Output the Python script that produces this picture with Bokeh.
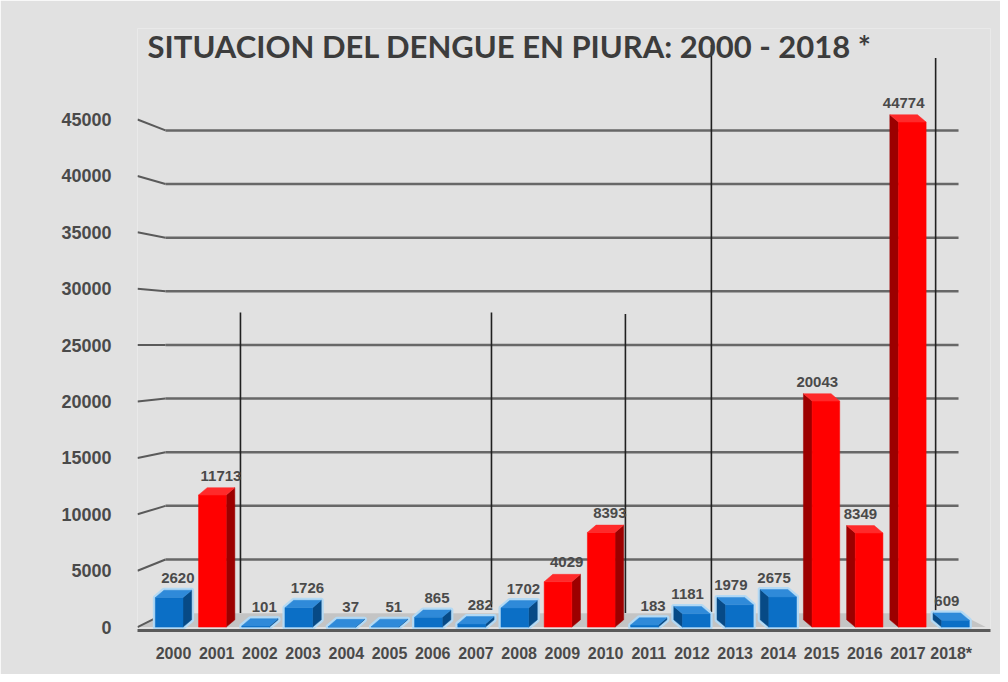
import numpy as np
from bokeh.plotting import figure
from bokeh.models import ColumnDataSource, Range1d, FixedTicker, NumeralTickFormatter, Label
from bokeh.core.properties import value
from bokeh.embed import file_html
from bokeh.resources import INLINE

# ---------------- data ----------------
years = ["2000", "2001", "2002", "2003", "2004", "2005", "2006", "2007", "2008", "2009",
         "2010", "2011", "2012", "2013", "2014", "2015", "2016", "2017", "2018*"]
cases = [2620, 11713, 101, 1726, 37, 51, 865, 282, 1702, 4029,
         8393, 183, 1181, 1979, 2675, 20043, 8349, 44774, 609]
epidemic = [False, True, False, False, False, False, False, False, False, True,
            True, False, False, False, False, True, True, True, False]
y_ticks = [0, 5000, 10000, 15000, 20000, 25000, 30000, 35000, 40000, 45000]
title_text = "SITUACION DEL DENGUE EN PIURA:  2000 - 2018 *"

# period separator lines drawn on the slide (x between categories, y extent in cases)
sep_x = [1.55, 7.36, 10.46, 12.45, 17.64]
sep_top = [27900, 27900, 27750, 51600, 50450]
sep_bottom = [1250, 1750, 1250, 1350, 1500]

# ---------------- style ----------------
BG = "#e1e1e1"
GRID = "#5a5a5a"
TXT = "#4a4a4a"
BLUE, BLUE_SIDE, BLUE_TOP, BLUE_GLOW = "#0b6fc6", "#074a86", "#2f8ad9", "#b3d9f4"
RED, RED_SIDE, RED_TOP = "#ff0000", "#9c0000", "#ff2a2a"
W = 0.84          # box footprint width (category units)
DX = 0.2          # oblique depth, x (category units)
DY = 650          # oblique depth, y (data units)
BACK_SCALE, BACK_OFFSET = 0.951, 1239   # back-wall perspective for gridlines
FRONT_LEFT, BACK_LEFT, BACK_RIGHT, FRONT_RIGHT = -0.833, -0.185, 18.17, 18.8

p = figure(width=1000, height=674, output_backend="svg", toolbar_location=None,
           x_range=Range1d(-0.833, 18.91), y_range=Range1d(-300, 53070),
           min_border_left=137, min_border_right=10, min_border_top=28, min_border_bottom=44)
p.background_fill_color = BG
p.border_fill_color = BG
p.outline_line_color = None
p.xgrid.visible = False
p.ygrid.visible = False

# floor
p.patch([FRONT_LEFT, FRONT_RIGHT, BACK_RIGHT, BACK_LEFT], [0, 0, BACK_OFFSET, BACK_OFFSET],
        fill_color="#c4c4c4", line_color=None)

# perspective gridlines and diagonal ticks
gt = np.array(y_ticks[1:], dtype=float)
back = BACK_OFFSET + BACK_SCALE * gt
p.segment(x0=[BACK_LEFT] * len(gt), y0=back, x1=[BACK_RIGHT] * len(gt), y1=back,
          line_color=GRID, line_width=2.5, line_alpha=0.9)
all_t = np.array(y_ticks, dtype=float)
p.segment(x0=[FRONT_LEFT] * len(all_t), y0=all_t, x1=[BACK_LEFT] * len(all_t),
          y1=BACK_OFFSET + BACK_SCALE * all_t, line_color=GRID, line_width=2)

# separator lines
p.segment(x0=sep_x, y0=sep_bottom, x1=sep_x, y1=sep_top, line_color="#202020", line_width=1.6)

# 3D boxes
front_xs, front_ys, side_xs, side_ys, top_xs, top_ys, out_xs, out_ys = [], [], [], [], [], [], [], []
fc, sc, tc, glow_alpha = [], [], [], []
lab_x, lab_y = [], []
for i, (v, red) in enumerate(zip(cases, epidemic)):
    dx = DX if i <= 11 else -DX
    wf = W - DX
    if dx > 0:
        x0 = i - W / 2
    else:
        x0 = i + W / 2 - wf
    x1 = x0 + wf
    front_xs.append([x0, x1, x1, x0]); front_ys.append([0, 0, v, v])
    top_xs.append([x0, x1, x1 + dx, x0 + dx]); top_ys.append([v, v, v + DY, v + DY])
    xe = x1 if dx > 0 else x0
    side_xs.append([xe, xe, xe + dx, xe + dx]); side_ys.append([0, v, v + DY, DY])
    if dx > 0:
        out_xs.append([x0, x1, x1 + dx, x1 + dx, x0 + dx, x0])
        out_ys.append([0, 0, DY, v + DY, v + DY, v])
    else:
        out_xs.append([x0 + dx, x0, x1, x1, x1 + dx, x0 + dx])
        out_ys.append([DY, 0, 0, v, v + DY, v + DY])
    fc.append(RED if red else BLUE)
    sc.append(RED_SIDE if red else BLUE_SIDE)
    tc.append(RED_TOP if red else BLUE_TOP)
    glow_alpha.append(0.0 if red else 1.0)
    lab_x.append(i + dx / 2)
    lab_y.append(v + DY)

p.patches(out_xs, out_ys, fill_color=None, line_color=BLUE_GLOW, line_alpha=glow_alpha,
          line_width=5, line_join="round")
p.patches(side_xs, side_ys, fill_color=sc, line_color=sc, line_width=0.5)
p.patches(front_xs, front_ys, fill_color=fc, line_color=fc, line_width=0.5)
p.patches(top_xs, top_ys, fill_color=tc, line_color=tc, line_width=0.5)

src = ColumnDataSource(dict(x=lab_x, y=lab_y, t=[str(c) for c in cases]))
p.text(x="x", y="y", text="t", source=src, text_align="center", text_baseline="bottom",
       y_offset=-7, text_font=value("Liberation Sans"), text_font_style="bold",
       text_font_size="15px", text_color=TXT)

# title inside the canvas
p.add_layout(Label(x=7.87, y=51500, text=title_text, text_align="center",
                   text_baseline="middle", text_font="Lato",
                   text_font_style="bold", text_font_size="31px", text_color="#3c3c3c"))

# axes
p.xaxis.ticker = FixedTicker(ticks=list(range(len(years))))
p.xaxis.major_label_overrides = {i: y for i, y in enumerate(years)}
p.xaxis.axis_line_color = GRID
p.xaxis.axis_line_width = 3
p.xaxis.major_tick_line_color = None
p.xaxis.minor_tick_line_color = None
p.xaxis.major_label_standoff = 8
p.xaxis.major_label_text_font = "Liberation Sans"
p.xaxis.major_label_text_font_style = "bold"
p.xaxis.major_label_text_font_size = "16px"
p.xaxis.major_label_text_color = TXT

p.yaxis.ticker = FixedTicker(ticks=y_ticks)
p.yaxis.formatter = NumeralTickFormatter(format="0")
p.yaxis.axis_line_color = None
p.yaxis.major_tick_line_color = None
p.yaxis.minor_tick_line_color = None
p.yaxis.major_label_standoff = 20
p.yaxis.major_label_text_font = "Liberation Sans"
p.yaxis.major_label_text_font_style = "bold"
p.yaxis.major_label_text_font_size = "18px"
p.yaxis.major_label_text_color = TXT

open("out.html", "w").write(file_html(p, INLINE))
